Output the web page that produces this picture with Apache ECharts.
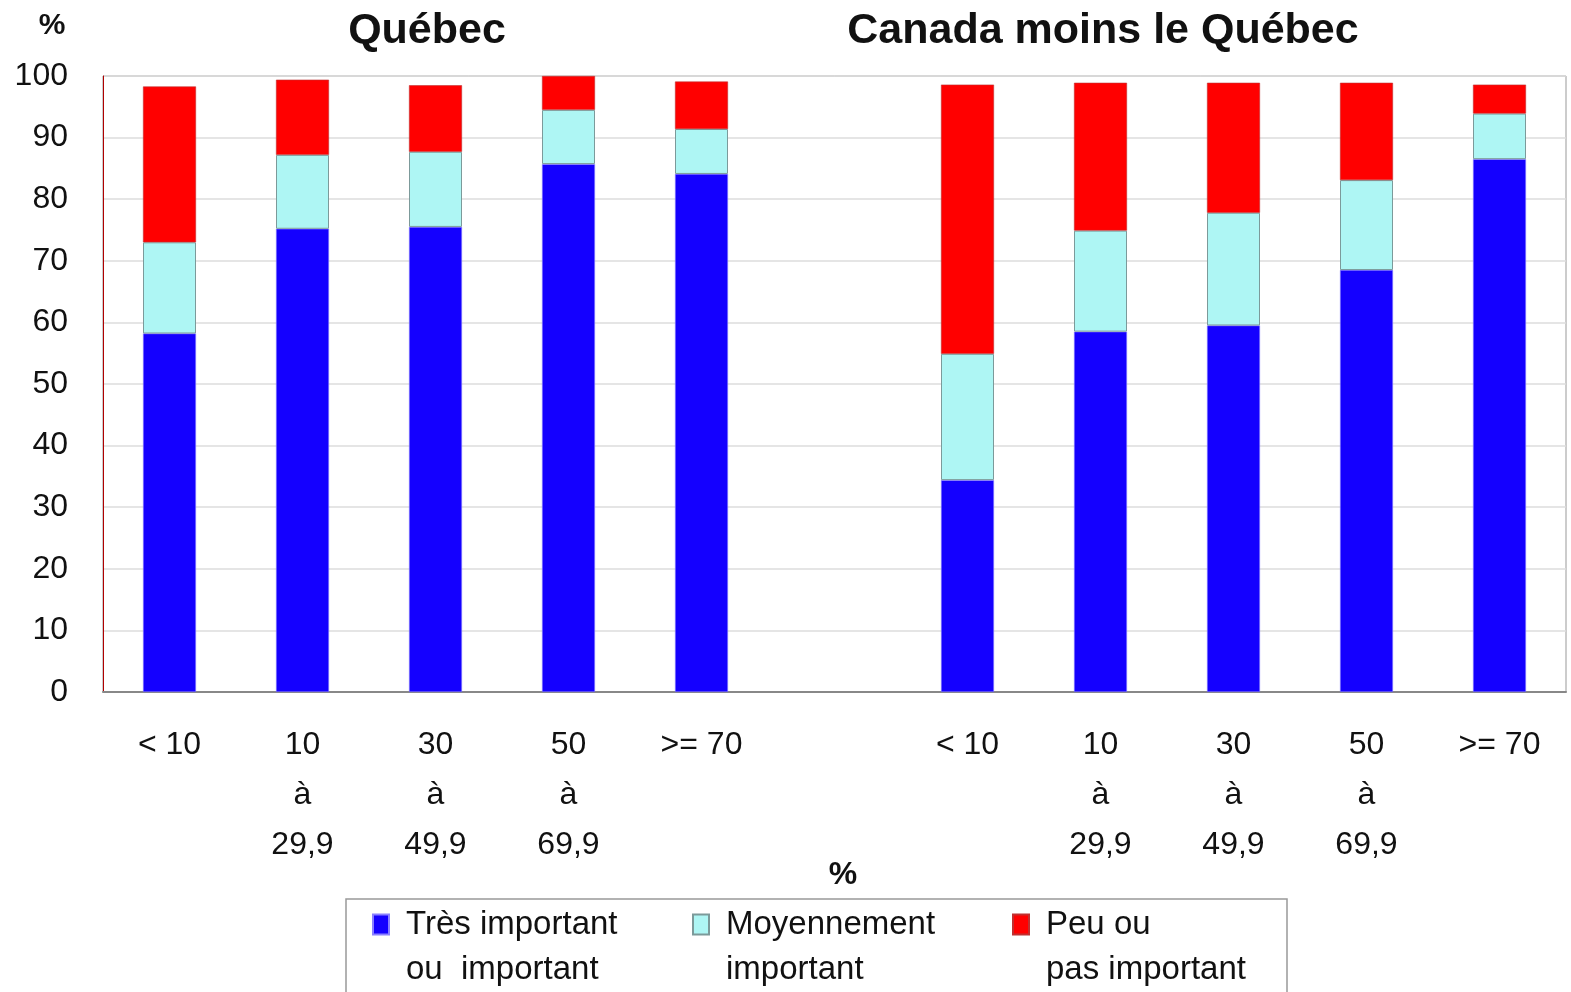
<!DOCTYPE html>
<html>
<head>
<meta charset="utf-8">
<script src="https://cdn.jsdelivr.net/npm/echarts@6/dist/echarts.min.js"></script>
<style>
html, body { margin: 0; padding: 0; background: #fff; }
#chart { width: 1571px; height: 992px; }
</style>
</head>
<body>
<div id="chart"></div>
<script>
// catégories (Québec, vide, Canada moins le Québec)
var categories = ['< 10', '10\nà\n29,9', '30\nà\n49,9', '50\nà\n69,9', '>= 70', '',
                  '< 10', '10\nà\n29,9', '30\nà\n49,9', '50\nà\n69,9', '>= 70'];
var yTicks = [0, 10, 20, 30, 40, 50, 60, 70, 80, 90, 100];
var seriesNames = ['Très important\nou  important', 'Moyennement\nimportant', 'Peu ou\npas important'];
// valeurs en %
var tresImportant = [58.2, 75.2, 75.5, 85.7, 84.1, '-', 34.4, 58.5, 59.5, 68.5, 86.5];
var moyennement   = [14.8, 12.0, 12.2, 8.8, 7.3, '-', 20.5, 16.4, 18.3, 14.6, 7.4];
var peuImportant  = [25.3, 12.2, 10.8, 5.5, 7.7, '-', 43.7, 24.0, 21.1, 15.8, 4.7];

var font = 'Liberation Sans, Arial, sans-serif';
var myChart = echarts.init(document.getElementById('chart'));

var option = {
    backgroundColor: '#fff',
    animation: false,
    textStyle: { fontFamily: font },
    title: [
        { text: 'Québec', left: 427, top: 10, textAlign: 'center', padding: 0,
          textStyle: { fontSize: 43, fontWeight: 'bold', color: '#111', fontFamily: font } },
        { text: 'Canada moins le Québec', left: 1103, top: 10, textAlign: 'center', padding: 0,
          textStyle: { fontSize: 43, fontWeight: 'bold', color: '#111', fontFamily: font } },
        { text: '%', left: 52, top: 11, textAlign: 'center', padding: 0,
          textStyle: { fontSize: 30, fontWeight: 'bold', color: '#111', fontFamily: font } },
        { text: '%', left: 843, top: 859, textAlign: 'center', padding: 0,
          textStyle: { fontSize: 32, fontWeight: 'bold', color: '#111', fontFamily: font } }
    ],
    grid: {
        left: 103, right: 5, top: 76, bottom: 300,
        show: true, borderColor: '#999', borderWidth: 1
    },
    legend: {
        data: seriesNames,
        left: 372, top: 857, padding: 0,
        itemWidth: 16, itemHeight: 20, itemGap: 30,
        icon: 'rect',
        // ligne vide en tête : la 1re ligne du texte tombe face au carré
        formatter: function (name) { return '\n' + name; },
        textStyle: { fontSize: 33, lineHeight: 45, color: '#111', width: 256,
                     padding: [0, 0, 0, 12], fontFamily: font }
    },
    graphic: [{
        type: 'rect',
        shape: { x: 346, y: 899, width: 941, height: 200 },
        style: { fill: 'none', stroke: '#999', lineWidth: 1.5 },
        silent: true
    }],
    xAxis: {
        type: 'category',
        data: categories,
        axisTick: { show: false },
        axisLine: { lineStyle: { color: '#888', width: 2 } },
        axisLabel: { fontSize: 32, lineHeight: 50, color: '#111', margin: 28, interval: 0 }
    },
    yAxis: {
        type: 'value',
        min: yTicks[0], max: yTicks[yTicks.length - 1], interval: 10,
        axisLine: { show: true, lineStyle: { color: '#b00000', width: 1 } },
        axisTick: { show: false },
        axisLabel: { fontSize: 32, color: '#111', margin: 35 },
        splitLine: { lineStyle: { color: '#ddd', width: 1.5 } }
    },
    series: [
        { name: seriesNames[0], type: 'bar', stack: 'tot', barWidth: 53, data: tresImportant,
          itemStyle: { color: '#1400ff', borderColor: '#8a80ff', borderWidth: 0.6 } },
        { name: seriesNames[1], type: 'bar', stack: 'tot', barWidth: 53, data: moyennement,
          itemStyle: { color: '#aef6f4', borderColor: '#7c9a9a', borderWidth: 1 } },
        { name: seriesNames[2], type: 'bar', stack: 'tot', barWidth: 53, data: peuImportant,
          itemStyle: { color: '#ff0000', borderColor: '#c03030', borderWidth: 0.6 } }
    ]
};
myChart.setOption(option);
window.addEventListener('resize', myChart.resize);
</script>
</body>
</html>
